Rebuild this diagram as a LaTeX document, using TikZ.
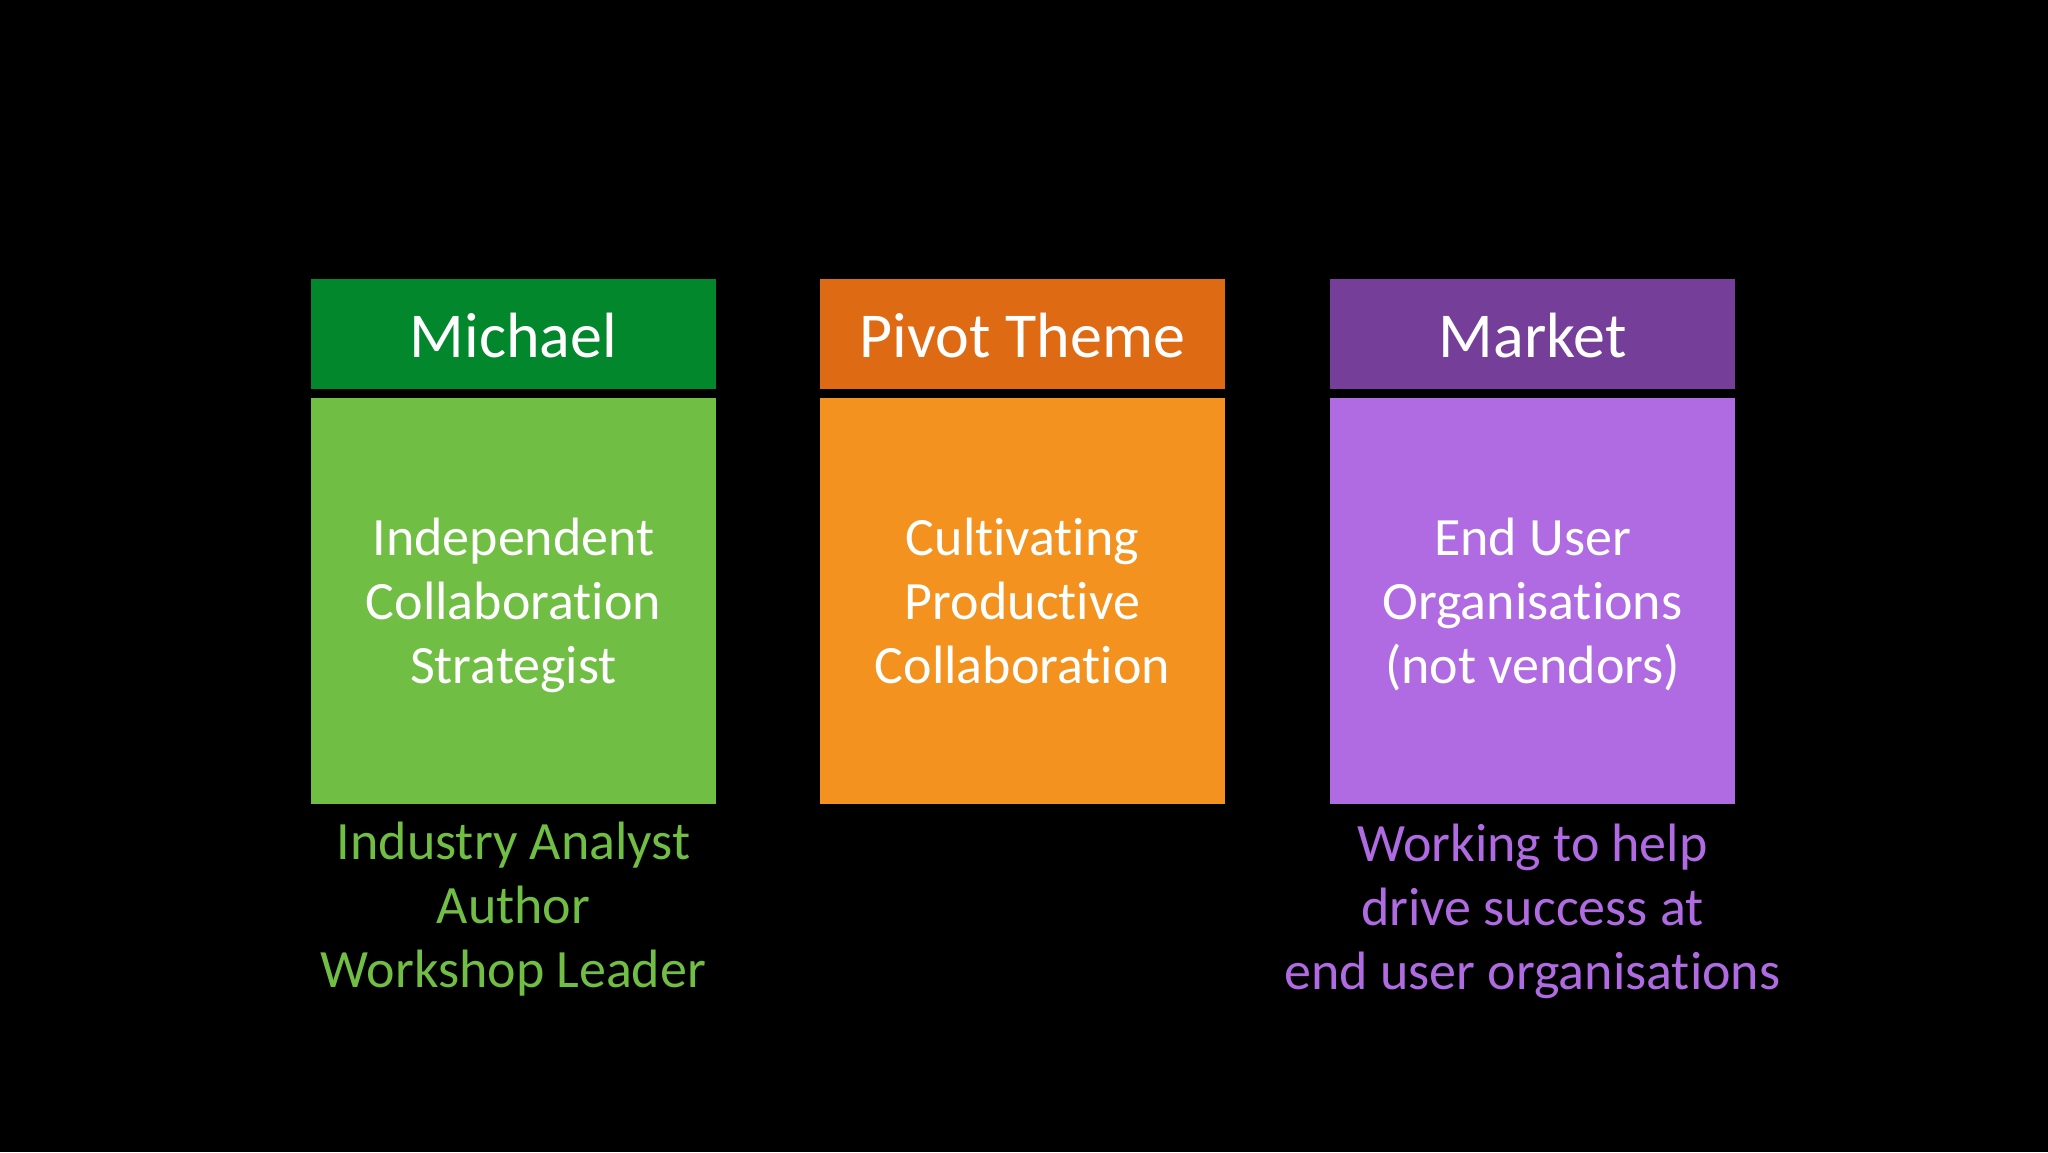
\documentclass[tikz,border=0pt]{standalone}
\usepackage{fontspec}
\setmainfont{Carlito}[Ligatures=NoCommon,RawFeature={-liga;-dlig}]
\definecolor{mhead}{RGB}{2,135,45}
\definecolor{mbody}{RGB}{112,190,68}
\definecolor{phead}{RGB}{223,106,20}
\definecolor{pbody}{RGB}{243,146,30}
\definecolor{khead}{RGB}{117,63,153}
\definecolor{kbody}{RGB}{176,106,226}
\begin{document}
\begin{tikzpicture}[x=1pt,y=-1pt,
  headbox/.style={draw=none,inner sep=0,minimum width=405pt,minimum height=110pt,anchor=north west},
  bodybox/.style={draw=none,inner sep=0,minimum width=405pt,minimum height=406pt,anchor=north west},
  headtxt/.style={text=white,inner sep=0,anchor=north,font=\fontsize{64}{64}\selectfont},
  bodytxt/.style={text=white,inner sep=0,anchor=north,align=center,font=\fontsize{54}{64}\selectfont},
  subtxt/.style={inner sep=0,anchor=north,align=center,font=\fontsize{54}{64}\selectfont}]
\fill[black] (0,0) rectangle (2048,1152);
\useasboundingbox (0,0) rectangle (2048,1152);
% Michael column
\node[headbox,fill=mhead] (mh) at (311,279) {};
\node[bodybox,fill=mbody] (mb) at (311,398) {};
\node[headtxt] (mht) at (513.5,312.2) {\strut Michael};
\node[bodytxt] (mbt) at (513.5,510.7) {\strut Independent\\\strut Collaboration\\\strut Strategist};
\node[subtxt,text=mbody] (mst) at (513.5,814.7) {\strut Industry Analyst\\\strut Author\\\strut Workshop Leader};
% Pivot column
\node[headbox,fill=phead] (ph) at (820,279) {};
\node[bodybox,fill=pbody] (pb) at (820,398) {};
\node[headtxt] (pht) at (1022.5,312.2) {\strut Pivot Theme};
\node[bodytxt] (pbt) at (1022.5,510.7) {\strut Cultivating\\\strut Productive\\\strut Collaboration};
% Market column
\node[headbox,fill=khead] (kh) at (1330,279) {};
\node[bodybox,fill=kbody] (kb) at (1330,398) {};
\node[headtxt] (kht) at (1532.5,312.2) {\strut Market};
\node[bodytxt] (kbt) at (1532.5,510.7) {\strut End User\\\strut Organisations\\\strut (not vendors)};
\node[subtxt,text=kbody] (kst) at (1532.5,816.7) {\strut Working to help\\\strut drive success at\\\strut end user organisations};
\end{tikzpicture}
\end{document}
